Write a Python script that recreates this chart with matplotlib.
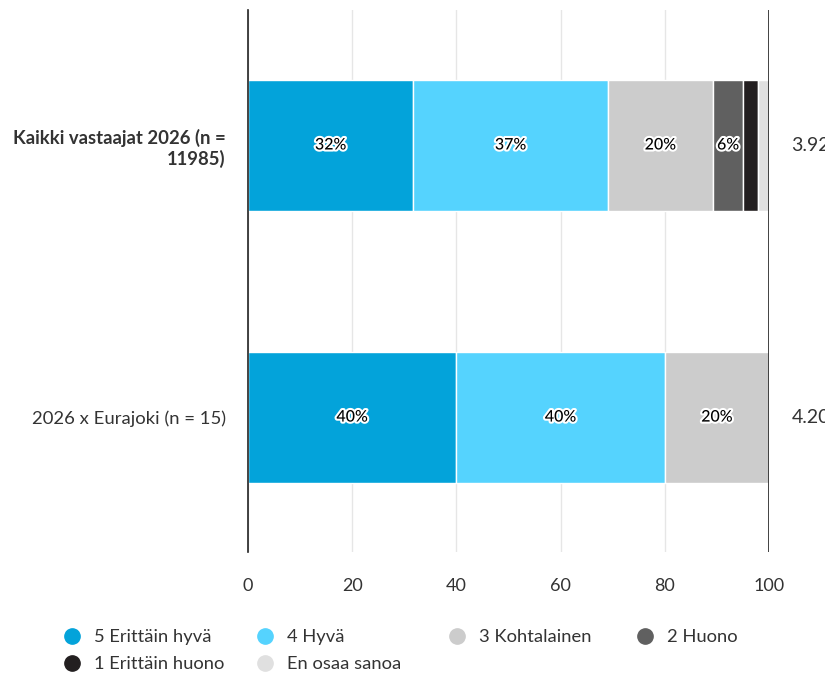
import matplotlib.pyplot as plt
import matplotlib.patheffects as pe
from matplotlib.lines import Line2D
import numpy as np

plt.rcParams['font.family'] = ['Lato', 'DejaVu Sans']

# Data
groups = ['Kaikki vastaajat 2026 (n =\n11985)', '2026 x Eurajoki (n = 15)']
categories = ['5 Erittäin hyvä', '4 Hyvä', '3 Kohtalainen', '2 Huono',
              '1 Erittäin huono', 'En osaa sanoa']
colors = ['#03A3DA', '#55D3FE', '#CCCCCC', '#606060', '#231F20', '#E0E0E0']
values = np.array([
    [31.7, 37.4, 20.1, 5.9, 2.7, 2.2],
    [40.0, 40.0, 20.0, 0.0, 0.0, 0.0],
])
means = ['3.92', '4.20']

fig = plt.figure(figsize=(8.25, 6.75), dpi=100)
ax = fig.add_axes([248 / 825, 1 - 552 / 675, (769 - 248) / 825, (552 - 10) / 675])

y = np.arange(len(groups))
left = np.zeros(len(groups))
for j, cat in enumerate(categories):
    vals = values[:, j]
    ax.barh(y, vals, left=left, height=0.48, color=colors[j],
            edgecolor='white', linewidth=1, label=cat, zorder=3)
    for i in range(len(groups)):
        if vals[i] >= 5:
            ax.text(left[i] + vals[i] / 2, y[i], f'{vals[i]:.0f}%',
                    ha='center', va='center', fontsize=11.5, color='black',
                    fontweight='medium', zorder=4,
                    path_effects=[pe.withStroke(linewidth=3, foreground='white')])
    left += vals

for i, m in enumerate(means):
    ax.text(104.3, y[i], m, ha='left', va='center', fontsize=14,
            color='#333333', clip_on=False)

ax.set_xlim(0, 100)
ax.set_ylim(1.494, -0.498)
ax.set_xticks([0, 20, 40, 60, 80, 100])
ax.set_yticks(y)
ax.set_yticklabels(groups)
ax.get_yticklabels()[0].set_fontweight('bold')
ax.tick_params(axis='x', length=0, pad=19, labelsize=13, labelcolor='#333333')
ax.tick_params(axis='y', length=0, pad=16, labelsize=13.3, labelcolor='#333333')
ax.grid(axis='x', color='#e6e6e6', linewidth=1, zorder=0)
ax.axvline(100, color='#222222', linewidth=1.2, zorder=5)
for s in ['top', 'bottom', 'right']:
    ax.spines[s].set_visible(False)
ax.spines['left'].set_color('#222222')
ax.spines['left'].set_linewidth(1.2)
ax.spines['left'].set_zorder(5)

# Legend: one small legend per column so the columns are evenly spaced
columns = [[0, 4], [1, 5], [2], [3]]
col_x = [64, 257, 449, 637]
for cx, idxs in zip(col_x, columns):
    handles = [Line2D([], [], marker='o', linestyle='none', markersize=11,
                      markerfacecolor=colors[k], markeredgecolor=colors[k])
               for k in idxs]
    leg = fig.legend(handles, [categories[k] for k in idxs],
                     loc='upper left', bbox_to_anchor=(cx / 825, 1 - 629 / 675),
                     frameon=False, fontsize=13.2, handlelength=0.9,
                     handletextpad=0.75, labelspacing=0.62, borderpad=0,
                     borderaxespad=0)
    for t in leg.get_texts():
        t.set_color('#333333')

plt.savefig('out.png', dpi=100)
